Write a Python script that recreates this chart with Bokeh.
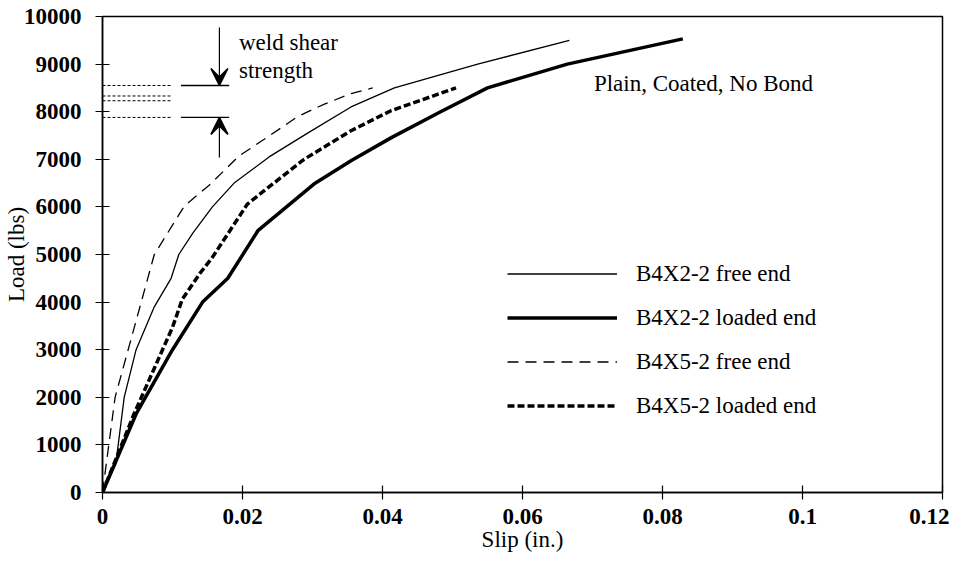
from bokeh.plotting import figure
from bokeh.models import (Range1d, FixedTicker, Legend, LegendItem, Arrow, VeeHead,
                          Label)
from bokeh.embed import file_html
from bokeh.resources import INLINE

FONT = "Liberation Serif"

# ---- data ----
free22_x = [0, 0.0019, 0.0031, 0.0048, 0.0074, 0.0098, 0.0109, 0.0129, 0.0157, 0.0188,
            0.0238, 0.0293, 0.0355, 0.0417, 0.0536, 0.0667]
free22_y = [0, 600, 2000, 3000, 3900, 4500, 5000, 5450, 6000, 6500,
            7050, 7550, 8100, 8500, 9000, 9500]

load22_x = [0, 0.0048, 0.0100, 0.0143, 0.0179, 0.0222, 0.0302, 0.0355, 0.0412, 0.0483,
            0.0550, 0.0664, 0.0829]
load22_y = [0, 1650, 3000, 4000, 4500, 5500, 6480, 6970, 7450, 8000,
            8500, 9000, 9530]

free52_x = [0, 0.0018, 0.0074, 0.0117, 0.0152, 0.0195, 0.0231, 0.0279, 0.0317, 0.0355, 0.0386]
free52_y = [0, 2000, 5000, 6020, 6450, 7070, 7420, 7900, 8160, 8380, 8500]

load52_x = [0, 0.0045, 0.0100, 0.0114, 0.0140, 0.0157, 0.0207, 0.0231, 0.0288, 0.0355,
            0.0412, 0.0505]
load52_y = [0, 1650, 3470, 4060, 4620, 4940, 6060, 6340, 7000, 7600, 8020, 8500]

series_labels = ["B4X2-2 free end", "B4X2-2 loaded end", "B4X5-2 free end", "B4X5-2 loaded end"]

weld_levels = [8550, 8330, 8230, 7880]
weld_dotted_x = [0, 0.0098]
weld_bracket_x = [0.0112, 0.0181]
weld_bracket_levels = [8550, 7880]
arrow_x = 0.0167
arrow_top_start = 9770
arrow_bottom_start = 7040

x_ticks = [0, 0.02, 0.04, 0.06, 0.08, 0.1, 0.12]
x_tick_labels = ["0", "0.02", "0.04", "0.06", "0.08", "0.1", "0.12"]
y_ticks = list(range(0, 10001, 1000))

# ---- figure ----
p = figure(width=949, height=554, output_backend="svg", toolbar_location=None,
           x_range=Range1d(0, 0.12), y_range=Range1d(0, 10000),
           min_border_left=102, min_border_right=7, min_border_top=16, min_border_bottom=62)
p.grid.visible = False
p.outline_line_color = "black"
p.outline_line_width = 1.5
p.background_fill_color = "white"

for ax in (p.xaxis[0], p.yaxis[0]):
    ax.axis_line_width = 1.5
    ax.major_tick_in = 7
    ax.major_tick_out = 7
    ax.major_tick_line_width = 1.2
    ax.minor_tick_line_color = None
    ax.major_label_text_font = FONT
    ax.major_label_text_font_style = "bold"
    ax.major_label_text_font_size = "23px"
    ax.major_label_text_color = "black"
    ax.axis_label_text_font = FONT
    ax.axis_label_text_font_style = "normal"
    ax.axis_label_text_font_size = "23px"
    ax.axis_label_text_color = "black"

p.xaxis.ticker = FixedTicker(ticks=x_ticks)
p.xaxis.major_label_overrides = {t: l for t, l in zip(x_ticks, x_tick_labels)}
p.yaxis.ticker = FixedTicker(ticks=y_ticks)
p.xaxis.axis_label = "Slip (in.)"
p.yaxis.axis_label = "Load (lbs)"
p.xaxis.major_label_standoff = 9
p.xaxis.axis_label_standoff = 0
p.yaxis.major_label_standoff = 14
p.yaxis.axis_label_standoff = -8

# ---- curves ----
r1 = p.line(free22_x, free22_y, line_color="black", line_width=1.3)
r2 = p.line(load22_x, load22_y, line_color="black", line_width=3.5)
r3 = p.line(free52_x, free52_y, line_color="black", line_width=1.3, line_dash="11 7")
r4 = p.line(load52_x, load52_y, line_color="black", line_width=3.5, line_dash="7 3")

legend = Legend(items=[LegendItem(label=series_labels[i], renderers=[r])
                       for i, r in enumerate([r1, r2, r3, r4])],
                location=(405, 73), padding=0, margin=0,
                glyph_width=110, glyph_height=27, label_height=27, spacing=17,
                label_standoff=19,
                label_text_font=FONT, label_text_font_size="23px",
                label_text_color="black",
                border_line_alpha=0, background_fill_alpha=0)
p.add_layout(legend, "center")

# ---- weld shear strength annotation ----
for lv in weld_levels:
    p.line(weld_dotted_x, [lv, lv], line_color="black", line_width=1, line_dash="3 2")
for lv in weld_bracket_levels:
    p.line(weld_bracket_x, [lv, lv], line_color="black", line_width=1.3)

p.add_layout(Arrow(x_start=arrow_x, y_start=arrow_top_start, x_end=arrow_x,
                   y_end=weld_bracket_levels[0], line_width=1.2,
                   end=VeeHead(size=17, fill_color="black", line_width=1.5)))
p.add_layout(Arrow(x_start=arrow_x, y_start=arrow_bottom_start, x_end=arrow_x,
                   y_end=weld_bracket_levels[1], line_width=1.2,
                   end=VeeHead(size=17, fill_color="black", line_width=1.5)))

p.add_layout(Label(x=0.0195, y=9454, text="weld shear", text_font=FONT,
                   text_font_size="23px", text_baseline="middle", text_color="black"))
p.add_layout(Label(x=0.0195, y=8859, text="strength", text_font=FONT,
                   text_font_size="23px", text_baseline="middle", text_color="black"))
p.add_layout(Label(x=0.0702, y=8586, text="Plain, Coated, No Bond", text_font=FONT,
                   text_font_size="23px", text_baseline="middle", text_color="black"))

open("out.html", "w").write(file_html(p, INLINE))
